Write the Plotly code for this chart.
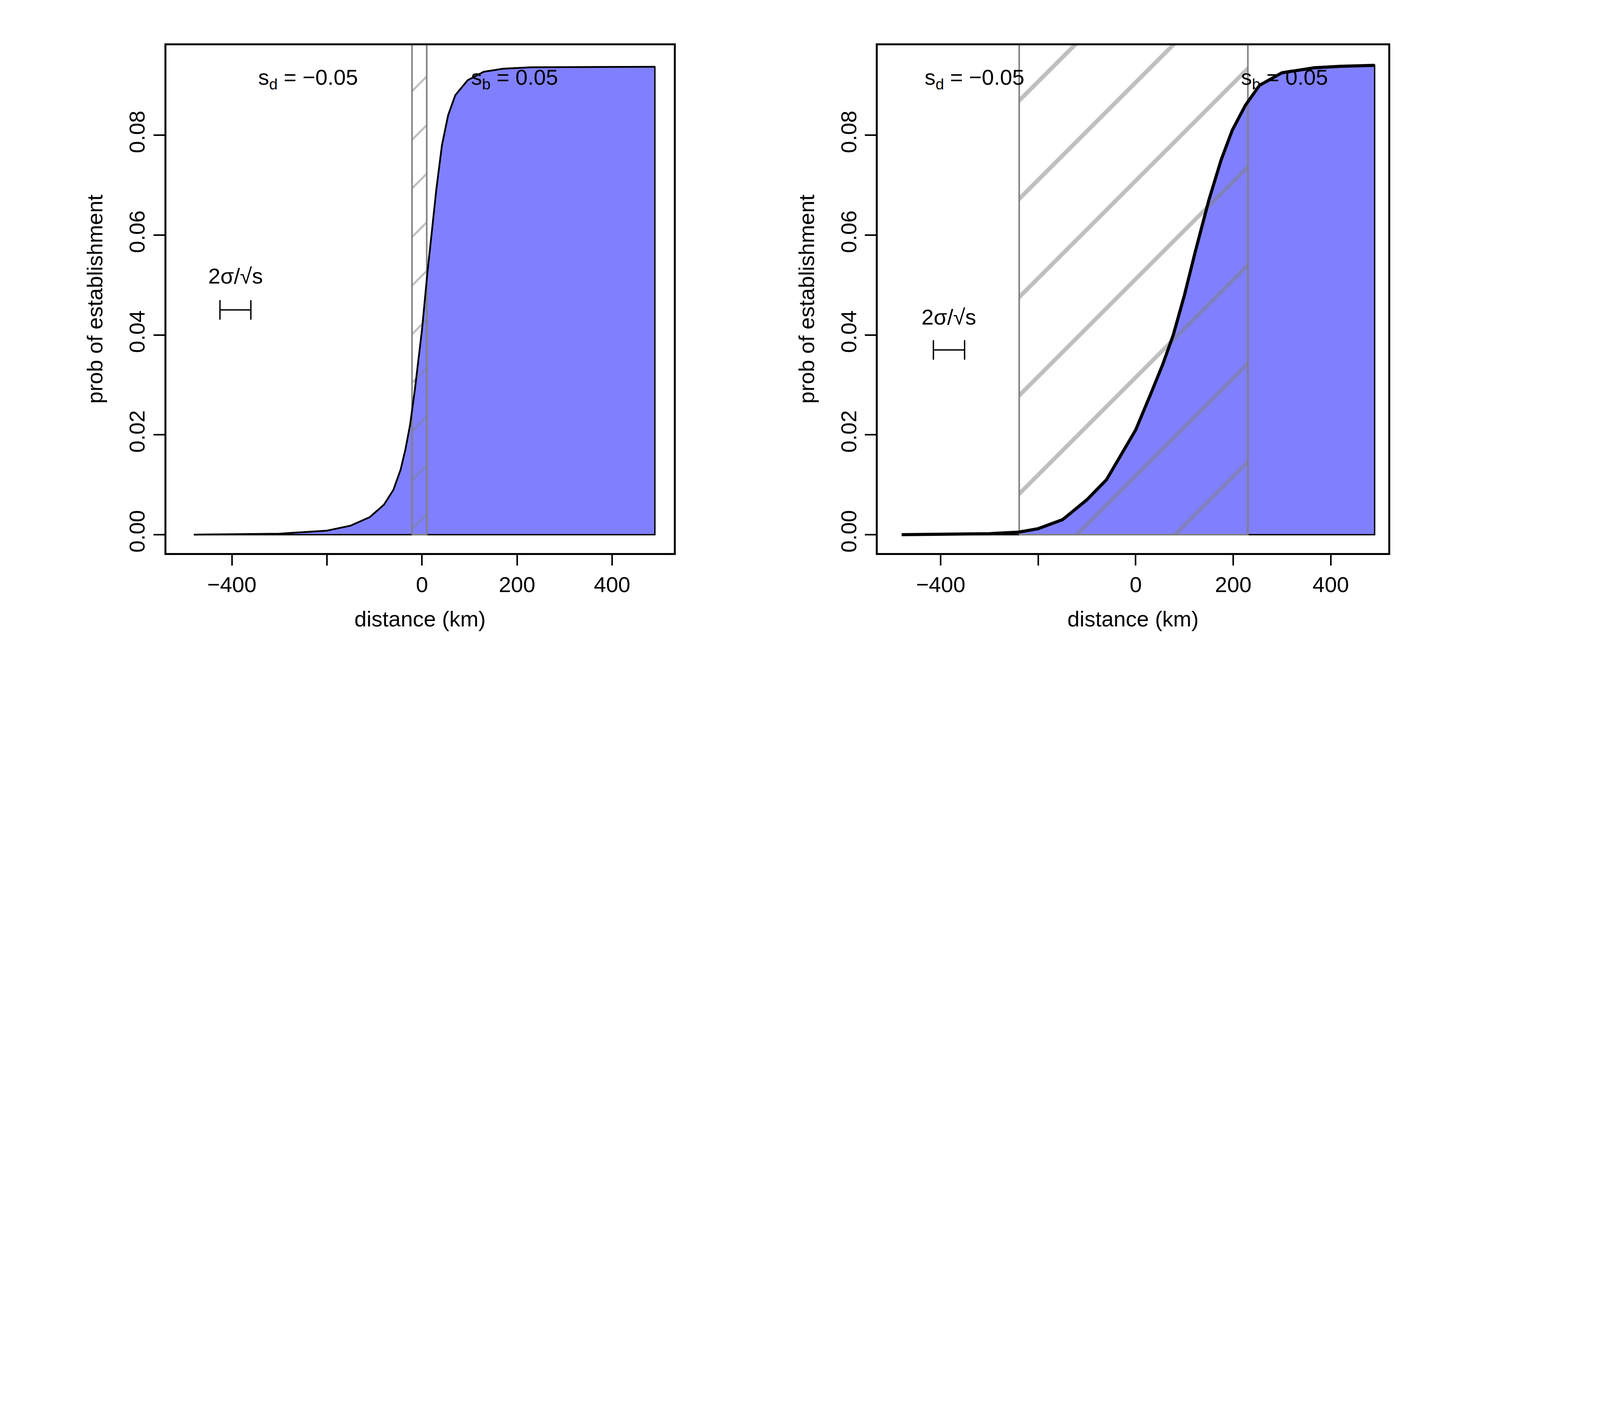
import plotly.graph_objects as go

# left panel: curve
left_x = [-480, -300, -200, -150, -110, -80, -60, -45, -35, -25, -15, -5, 0, 5, 12, 20, 30, 42, 55, 70, 96, 130, 170, 230, 490]
left_y = [0.0, 0.0002, 0.0008, 0.0018, 0.0035, 0.006, 0.009, 0.013, 0.017, 0.022, 0.029, 0.037, 0.041, 0.046, 0.053, 0.060, 0.069, 0.078, 0.084, 0.088, 0.091, 0.0927, 0.0933, 0.0936, 0.0937]
left_band = [-21, 10]

# right panel
right_x = [-480, -300, -240, -200, -150, -100, -60, -30, 0, 30, 55, 77, 100, 123, 150, 175, 198, 225, 254, 300, 366, 420, 490]
right_y = [0.0, 0.0002, 0.0005, 0.0012, 0.003, 0.007, 0.011, 0.016, 0.021, 0.028, 0.034, 0.040, 0.048, 0.057, 0.067, 0.075, 0.081, 0.086, 0.090, 0.0925, 0.0935, 0.0938, 0.094]
right_band = [-239, 230]

sd_label = "s<sub>d</sub> = \u22120.05"
sb_label = "s<sub>b</sub> = 0.05"
scale_label = "2\u03c3/\u221as"

FONT = "Liberation Sans"
BLUE = "rgb(128,128,255)"
FS = 56

fig = go.Figure()

def add_panel(fig, xs, ys, band, xa, ya, hatch, line_w, sd_x, sb_x, bar, bar_y, lab_y):
    px = list(xs) + [xs[-1], xs[0]]
    py = list(ys) + [0, 0]
    fig.add_trace(go.Scatter(x=px, y=py, fill='toself', fillcolor=BLUE, mode='lines',
                             line=dict(color='black', width=3.5), xaxis=xa, yaxis=ya, showlegend=False))
    fig.add_trace(go.Scatter(x=[band[0], band[1], band[1], band[0], band[0]],
                             y=[0, 0, 0.0985, 0.0985, 0],
                             fill='toself', fillcolor='rgba(0,0,0,0)', mode='lines',
                             line=dict(color='gray', width=4),
                             fillpattern=dict(shape='/', size=hatch, fgcolor='gray',
                                              bgcolor='rgba(0,0,0,0)', solidity=0.06),
                             xaxis=xa, yaxis=ya, showlegend=False))
    fig.add_trace(go.Scatter(x=xs, y=ys, mode='lines', line=dict(color='black', width=line_w),
                             xaxis=xa, yaxis=ya, showlegend=False))
    fig.add_trace(go.Scatter(x=[(bar[0] + bar[1]) / 2], y=[bar_y], mode='markers',
                             marker=dict(size=1, color='black'),
                             error_x=dict(type='constant', value=(bar[1] - bar[0]) / 2,
                                          color='black', thickness=3.5, width=25),
                             xaxis=xa, yaxis=ya, showlegend=False))
    for t, x in [(sd_label, sd_x), (sb_label, sb_x)]:
        fig.add_annotation(x=x, y=0.0913, xref=xa, yref=ya, text=t, showarrow=False,
                           font=dict(size=FS, family=FONT, color='black'))
    fig.add_annotation(x=(bar[0] + bar[1]) / 2, y=lab_y, xref=xa, yref=ya, text=scale_label,
                       showarrow=False, font=dict(size=FS, family=FONT, color='black'))

add_panel(fig, left_x, left_y, left_band, 'x', 'y', 88, 4.5, -240, 195, [-425, -360], 0.045, 0.0518)
add_panel(fig, right_x, right_y, right_band, 'x2', 'y2', 178, 8, -331, 305, [-415, -351], 0.037, 0.0436)

ax = dict(showline=True, mirror=True, linecolor='black', linewidth=4.5, ticks='outside',
          ticklen=28, tickwidth=4, tickcolor='black', showgrid=False, zeroline=False,
          tickfont=dict(size=FS, family=FONT, color='black'),
          title=dict(text='distance (km)', font=dict(size=FS, family=FONT, color='black'), standoff=40),
          tickvals=[-400, -200, 0, 200, 400], ticktext=['\u2212400', '', '0', '200', '400'])
ay = dict(showline=True, mirror=True, linecolor='black', linewidth=4.5, ticks='outside',
          ticklen=28, tickwidth=4, tickcolor='black', showgrid=False, zeroline=False,
          tickfont=dict(size=FS, family=FONT, color='black'), tickangle=-90,
          title=dict(text='prob of establishment', font=dict(size=FS, family=FONT, color='black'), standoff=40),
          tickvals=[0, 0.02, 0.04, 0.06, 0.08], ticktext=['0.00', '0.02', '0.04', '0.06', '0.08'])

fig.update_layout(
    width=3600, height=1800, plot_bgcolor='white', paper_bgcolor='white',
    margin=dict(l=0, r=0, t=0, b=0),
    xaxis=dict(ax, domain=[0.116, 0.477], range=[-538, 530], anchor='y'),
    yaxis=dict(ay, domain=[0.218, 0.940], range=[-0.00365, 0.098], anchor='x'),
    xaxis2=dict(ax, domain=[0.622, 0.985], range=[-529, 518], anchor='y2'),
    yaxis2=dict(ay, domain=[0.218, 0.940], range=[-0.00365, 0.098], anchor='x2'),
)

fig.write_html("out.html")
